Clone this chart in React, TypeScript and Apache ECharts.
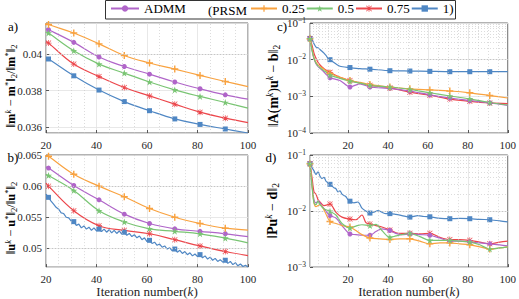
import React, { useEffect, useRef } from 'react';
import * as echarts from 'echarts';

const FONT = 'Liberation Serif, DejaVu Serif, serif';
const NAMES = ['ADMM', '0.25', '0.5', '0.75', '1'];
const COLORS: Record<string, string> = { ADMM: '#B065C9', '0.25': '#F9A23F', '0.5': '#79C573', '0.75': '#EC474C', '1': '#4F87C4' };
const MARK_ITERS = [1, 11, 21, 31, 41, 51, 61, 71, 81, 91];

// Panel a: relative model error
const A_X = [20, 21, 31, 41, 51, 61, 71, 81, 91, 100];
const A_ADMM = [0.04138, 0.04133, 0.04064, 0.03984, 0.03932, 0.0389, 0.03847, 0.0381, 0.03777, 0.03753];
const A_025 = [0.0417, 0.04162, 0.04115, 0.04056, 0.03992, 0.03951, 0.03918, 0.03883, 0.0385, 0.03822];
const A_05 = [0.04122, 0.04115, 0.04018, 0.03945, 0.03896, 0.03847, 0.03804, 0.03768, 0.03735, 0.03704];
const A_075 = [0.04068, 0.0406, 0.03945, 0.03877, 0.03817, 0.03771, 0.03726, 0.03682, 0.03649, 0.03625];
const A_1 = [0.03978, 0.03973, 0.03881, 0.03803, 0.0374, 0.0369, 0.03645, 0.03615, 0.0359, 0.03568];

// Panel b: relative wavefield error
const B_X = [20, 21, 31, 41, 51, 61, 71, 81, 91, 100];
const B_ADMM = [0.0631, 0.0629, 0.0601, 0.0578, 0.0555, 0.054, 0.05315, 0.05275, 0.05235, 0.0519];
const B_025 = [0.065, 0.0648, 0.0619, 0.06, 0.0583, 0.0564, 0.055, 0.054, 0.05325, 0.05295];
const B_05 = [0.0619, 0.0617, 0.0593, 0.05605, 0.05425, 0.05315, 0.05275, 0.05235, 0.05165, 0.0509];
const B_075 = [0.0605, 0.06, 0.05605, 0.05365, 0.0529, 0.05235, 0.0514, 0.0504, 0.0495, 0.04885];
const B_1_X = Array.from({ length: 81 }, (_, i) => 20 + i);
const B_1 = [
  0.0587, 0.0582, 0.0576, 0.0571, 0.0566, 0.0563, 0.0557, 0.0556, 0.055, 0.0549,
  0.0544, 0.0543, 0.0537, 0.0539, 0.0533, 0.0536, 0.0531, 0.0534, 0.0529, 0.0533,
  0.0528, 0.0531, 0.0527, 0.0531, 0.0526, 0.053, 0.0525, 0.0529, 0.0524, 0.0528,
  0.0523, 0.0526, 0.0521, 0.0524, 0.0519, 0.0522, 0.0517, 0.052, 0.0514, 0.0517,
  0.0511, 0.0513, 0.0508, 0.051, 0.0505, 0.0507, 0.0502, 0.0504, 0.0499, 0.0501,
  0.0496, 0.0499, 0.0494, 0.0497, 0.0492, 0.0495, 0.049, 0.0493, 0.0488, 0.0491,
  0.0487, 0.049, 0.0485, 0.0488, 0.0483, 0.0486, 0.0481, 0.0484, 0.0479, 0.0482,
  0.0478, 0.0481, 0.0476, 0.0479, 0.0474, 0.0477, 0.0472, 0.0475, 0.0471, 0.0473,
  0.047,
];

// Panel c: data misfit (log)
const C_X = [1, 2, 3, 4, 5, 6, 7, 8, 9, 10, 11, 16, 21, 26, 31, 41, 51, 61, 71, 81, 91, 100];
const C_ADMM = [0.037, 0.019, 0.0105, 0.0078, 0.0066, 0.0058, 0.0052, 0.0046, 0.004, 0.0035, 0.0032, 0.0027, 0.0018, 0.0022, 0.0018, 0.00165, 0.0014, 0.0011, 0.0009, 0.00077, 0.00066, 0.00057];
const C_025 = [0.037, 0.02, 0.011, 0.0085, 0.0072, 0.0065, 0.006, 0.0055, 0.005, 0.0046, 0.0042, 0.0033, 0.0027, 0.0024, 0.0021, 0.0018, 0.0016, 0.0015, 0.0014, 0.00125, 0.00105, 0.0009];
const C_05 = [0.037, 0.018, 0.011, 0.008, 0.0068, 0.006, 0.0055, 0.005, 0.0046, 0.0041, 0.0038, 0.0031, 0.0026, 0.0023, 0.002, 0.0018, 0.00155, 0.00125, 0.00102, 0.00085, 0.00068, 0.00058];
const C_075 = [0.037, 0.025, 0.015, 0.011, 0.0085, 0.0072, 0.0063, 0.0057, 0.0052, 0.0048, 0.0045, 0.0033, 0.0027, 0.0023, 0.002, 0.0017, 0.0013, 0.00107, 0.00084, 0.00073, 0.00066, 0.00063];
const C_1 = [0.038, 0.036, 0.027, 0.022, 0.021, 0.019, 0.017, 0.015, 0.013, 0.011, 0.01, 0.0066, 0.0061, 0.0057, 0.0055, 0.005, 0.0049, 0.0048, 0.0047, 0.0047, 0.0047, 0.0047];

// Panel d: observation misfit (log)
const D_ADMM_X = [1, 2, 3, 4, 5, 6, 8, 11, 14, 17, 21, 24, 27, 31, 34, 37, 41, 44, 47, 51, 56, 61, 66, 71, 76, 81, 86, 91, 96, 100];
const D_ADMM = [0.07, 0.03, 0.016, 0.014, 0.015, 0.014, 0.011, 0.0083, 0.0075, 0.0055, 0.0039, 0.0038, 0.0037, 0.0037, 0.0043, 0.0048, 0.0045, 0.004, 0.0038, 0.0039, 0.0038, 0.0037, 0.0033, 0.0029, 0.0029, 0.0028, 0.0027, 0.0026, 0.0025, 0.0024];
const D_025_X = [1, 2, 3, 4, 5, 6, 8, 11, 14, 17, 21, 24, 27, 31, 36, 41, 46, 51, 56, 61, 66, 71, 76, 81, 86, 91, 96, 100];
const D_025 = [0.07, 0.03, 0.014, 0.012, 0.0125, 0.013, 0.0105, 0.0065, 0.006, 0.0055, 0.0052, 0.0045, 0.0038, 0.0033, 0.0032, 0.0031, 0.0032, 0.0032, 0.0029, 0.0026, 0.0027, 0.0027, 0.0026, 0.0025, 0.0023, 0.0021, 0.0022, 0.0023];
const D_05_X = [1, 2, 3, 4, 5, 6, 8, 11, 14, 17, 21, 24, 27, 31, 34, 37, 41, 44, 47, 51, 56, 61, 66, 71, 76, 81, 86, 91, 96, 100];
const D_05 = [0.07, 0.028, 0.014, 0.013, 0.015, 0.013, 0.011, 0.0099, 0.0085, 0.006, 0.005, 0.0054, 0.0057, 0.0055, 0.0058, 0.0045, 0.0034, 0.0036, 0.0038, 0.004, 0.0035, 0.003, 0.003, 0.003, 0.0029, 0.0028, 0.0025, 0.0021, 0.0022, 0.0023];
const D_075_X = [1, 2, 3, 4, 5, 6, 8, 11, 14, 17, 21, 24, 27, 29, 31, 34, 37, 41, 44, 47, 51, 56, 61, 66, 71, 76, 81, 86, 91, 96, 100];
const D_075 = [0.07, 0.04, 0.022, 0.02, 0.016, 0.0145, 0.0125, 0.0133, 0.0095, 0.0078, 0.0072, 0.007, 0.0085, 0.0062, 0.0059, 0.0055, 0.0052, 0.0046, 0.0041, 0.004, 0.004, 0.0039, 0.004, 0.0034, 0.0031, 0.0031, 0.003, 0.0028, 0.0026, 0.0028, 0.0029];
const D_1_X = [1, 2, 3, 4, 5, 6, 7, 8, 9, 10, 11, 12, 13, 14, 15, 16, 17, 18, 19, 20, 21, 23, 25, 27, 29, 31, 33, 35, 37, 39, 41, 44, 47, 51, 55, 58, 61, 65, 71, 76, 81, 86, 91, 96, 100];
const D_1 = [0.07, 0.06, 0.052, 0.045, 0.05, 0.042, 0.038, 0.04, 0.034, 0.032, 0.03, 0.028, 0.026, 0.025, 0.022, 0.023, 0.02, 0.019, 0.018, 0.016, 0.015, 0.014, 0.0145, 0.0113, 0.01, 0.0092, 0.0095, 0.0102, 0.0095, 0.009, 0.009, 0.0087, 0.0083, 0.0078, 0.0083, 0.008, 0.0079, 0.0075, 0.0073, 0.0074, 0.0073, 0.0071, 0.007, 0.0067, 0.0064];

// Axis ranges and grid values
const A_Y_RANGE = [0.03568, 0.0417];
const B_Y_RANGE = [0.047, 0.065];
const C_Y_RANGE = [1e-4, 1e-1];
const D_Y_RANGE = [1e-3, 1e-1];
const A_MINOR_Y = [0.0365, 0.037, 0.0375, 0.0385, 0.039, 0.0395, 0.0405, 0.041, 0.0415];
const B_MINOR_Y = [0.048, 0.049, 0.051, 0.052, 0.053, 0.054, 0.056, 0.057, 0.058, 0.059, 0.061, 0.062, 0.063, 0.064];
const C_MINOR_Y = [2e-4, 3e-4, 4e-4, 5e-4, 6e-4, 7e-4, 8e-4, 9e-4, 2e-3, 3e-3, 4e-3, 5e-3, 6e-3, 7e-3, 8e-3, 9e-3, 2e-2, 3e-2, 4e-2, 5e-2, 6e-2, 7e-2, 8e-2, 9e-2];
const D_MINOR_Y = [2e-3, 3e-3, 4e-3, 5e-3, 6e-3, 7e-3, 8e-3, 9e-3, 2e-2, 3e-2, 4e-2, 5e-2, 6e-2, 7e-2, 8e-2, 9e-2];
const AB_MINOR_X = [25, 30, 35, 45, 50, 55, 65, 70, 75, 85, 90, 95];
const CD_MINOR_X = [5, 10, 15, 25, 30, 35, 45, 50, 55, 65, 70, 75, 85, 90, 95];

const PLUS = 'path://M4,0h2v4h4v2h-4v4h-2v-4h-4v-2h4z';
const STAR = 'path://M5,0L6.2,3.8L10,3.8L6.9,6.1L8.1,10L5,7.6L1.9,10L3.1,6.1L0,3.8L3.8,3.8Z';
const ASTER = 'path://M4.4,0h1.2v10h-1.2z M0,4.4h10v1.2h-10z M1.2,0.4L9.6,8.8L8.8,9.6L0.4,1.2z M8.8,0.4L9.6,1.2L1.2,9.6L0.4,8.8z';
const SYMBOLS: Record<string, string> = { ADMM: 'circle', '0.25': PLUS, '0.5': STAR, '0.75': ASTER, '1': 'rect' };
const SIZES: Record<string, number> = { ADMM: 5, '0.25': 7, '0.5': 7, '0.75': 6, '1': 5 };

const AXIS_COLOR = '#333';
const GRID_COLOR = '#e2e2e2';

function mkSeries(name: string, idx: number, xs: number[], ys: number[], smooth: number | boolean) {
  const color = COLORS[name];
  return {
    type: 'line',
    name,
    xAxisIndex: idx,
    yAxisIndex: idx,
    data: xs.map((x, i) => (MARK_ITERS.includes(x) ? [x, ys[i]] : { value: [x, ys[i]], symbol: 'none' })),
    symbol: SYMBOLS[name],
    symbolSize: SIZES[name],
    showSymbol: true,
    smooth,
    lineStyle: { width: 1.2, color },
    itemStyle: { color },
    z: 3,
  };
}

function minorSeries(idx: number, ys: number[], xs: number[]) {
  return {
    type: 'line',
    xAxisIndex: idx,
    yAxisIndex: idx,
    data: [],
    silent: true,
    z: 1,
    markLine: {
      silent: true,
      symbol: ['none', 'none'],
      label: { show: false },
      lineStyle: { type: [1, 2], color: '#c4c4c4', width: 0.6 },
      emphasis: { disabled: true },
      data: [...ys.map((v) => ({ yAxis: v })), ...xs.map((v) => ({ xAxis: v }))],
    },
  };
}

const labelStyle = { fontFamily: FONT, fontSize: 11, color: '#262626' };

function xAxis(idx: number, min: number, showName: boolean) {
  return {
    type: 'value',
    gridIndex: idx,
    min,
    max: 100,
    splitNumber: 4,
    axisLine: { show: false },
    axisTick: { inside: true, length: 3, lineStyle: { color: AXIS_COLOR, width: 0.8 } },
    axisLabel: { ...labelStyle, margin: 6, showMinLabel: min === 20, showMaxLabel: true },
    splitLine: { show: true, lineStyle: { color: GRID_COLOR, width: 0.8 } },
    name: showName ? '{n|Iteration number(}{i|k}{n|)}' : '',
    nameLocation: 'middle',
    nameGap: 17,
    nameTextStyle: {
      rich: {
        n: { fontFamily: FONT, fontSize: 13, color: '#262626' },
        i: { fontFamily: FONT, fontSize: 13, color: '#262626', fontStyle: 'italic' },
      },
    },
  };
}

function linYAxis(idx: number, range: number[], splitNumber: number, showMax: boolean) {
  return {
    type: 'value',
    gridIndex: idx,
    min: range[0],
    max: range[1],
    splitNumber,
    axisLine: { show: false },
    axisTick: { inside: true, length: 3, lineStyle: { color: AXIS_COLOR, width: 0.8 } },
    axisLabel: { ...labelStyle, margin: 4, showMinLabel: false, showMaxLabel: showMax },
    splitLine: { show: true, lineStyle: { color: GRID_COLOR, width: 0.8 } },
  };
}

function logYAxis(idx: number, range: number[]) {
  return {
    type: 'log',
    logBase: 10,
    gridIndex: idx,
    min: range[0],
    max: range[1],
    axisLine: { show: false },
    axisTick: { inside: true, length: 3, lineStyle: { color: AXIS_COLOR, width: 0.8 } },
    axisLabel: {
      margin: 4,
      formatter: (v: number) => {
        const e = Math.round(Math.log10(v));
        return `{b|10}{s|${e < 0 ? '\u2212' + Math.abs(e) : e}}`;
      },
      rich: {
        b: { fontFamily: FONT, fontSize: 11, color: '#262626', lineHeight: 14 },
        s: { fontFamily: FONT, fontSize: 7.5, color: '#262626', verticalAlign: 'top' },
      },
    },
    splitLine: { show: true, lineStyle: { color: GRID_COLOR, width: 0.8 } },
  };
}

function richY(size: number) {
  const s = size * 0.68;
  return {
    b: { fontFamily: FONT, fontSize: size, fontWeight: 'bold', color: '#000', lineHeight: size + 3 },
    n: { fontFamily: FONT, fontSize: size, color: '#000', lineHeight: size + 3 },
    sup: { fontFamily: FONT, fontSize: s, color: '#000', verticalAlign: 'top', fontStyle: 'italic' },
    st: { fontFamily: FONT, fontSize: s, color: '#000', verticalAlign: 'top' },
    sub: { fontFamily: FONT, fontSize: s, color: '#000', verticalAlign: 'bottom' },
  };
}

function yTitle(x: number, y: number, size: number, text: string) {
  return {
    type: 'text',
    x,
    y,
    rotation: Math.PI / 2,
    style: { text, align: 'center', verticalAlign: 'middle', rich: richY(size) },
  };
}

function panelTag(x: number, y: number, text: string) {
  return {
    type: 'text',
    x,
    y,
    style: { text, fontFamily: FONT, fontSize: 13, fill: '#000', align: 'center', verticalAlign: 'middle' },
  };
}

export default function App() {
  const ref = useRef<HTMLDivElement>(null);
  useEffect(() => {
    if (!ref.current) return;
    const chart = echarts.init(ref.current, undefined, { renderer: 'svg' });
    const grids = [
      { left: 46, top: 23, width: 202, height: 110 },
      { left: 46, top: 155, width: 202, height: 113 },
      { left: 310, top: 23, width: 201, height: 110 },
      { left: 310, top: 155, width: 201, height: 113 },
    ].map((g) => ({ ...g, show: true, borderColor: '#404040', borderWidth: 0.8, backgroundColor: '#fff' }));

    const series: any[] = [
      minorSeries(0, A_MINOR_Y, AB_MINOR_X),
      minorSeries(1, B_MINOR_Y, AB_MINOR_X),
      minorSeries(2, C_MINOR_Y, CD_MINOR_X),
      minorSeries(3, D_MINOR_Y, CD_MINOR_X),
      mkSeries('ADMM', 0, A_X, A_ADMM, 0.4),
      mkSeries('0.25', 0, A_X, A_025, 0.4),
      mkSeries('0.5', 0, A_X, A_05, 0.4),
      mkSeries('0.75', 0, A_X, A_075, 0.4),
      mkSeries('1', 0, A_X, A_1, 0.4),
      mkSeries('ADMM', 1, B_X, B_ADMM, 0.4),
      mkSeries('0.25', 1, B_X, B_025, 0.4),
      mkSeries('0.5', 1, B_X, B_05, 0.4),
      mkSeries('0.75', 1, B_X, B_075, 0.4),
      mkSeries('1', 1, B_1_X, B_1, false),
      mkSeries('1', 2, C_X, C_1, 0.25),
      mkSeries('0.75', 2, C_X, C_075, 0.25),
      mkSeries('ADMM', 2, C_X, C_ADMM, 0.25),
      mkSeries('0.25', 2, C_X, C_025, 0.25),
      mkSeries('0.5', 2, C_X, C_05, 0.25),
      mkSeries('1', 3, D_1_X, D_1, 0.3),
      mkSeries('0.75', 3, D_075_X, D_075, 0.3),
      mkSeries('ADMM', 3, D_ADMM_X, D_ADMM, 0.3),
      mkSeries('0.25', 3, D_025_X, D_025, 0.3),
      mkSeries('0.5', 3, D_05_X, D_05, 0.3),
    ];

    const legendText = { fontFamily: FONT, fontSize: 13, color: '#000' };

    chart.setOption({
      animation: false,
      grid: grids,
      xAxis: [xAxis(0, 20, false), xAxis(1, 20, true), xAxis(2, 1, false), xAxis(3, 1, true)],
      yAxis: [
        linYAxis(0, A_Y_RANGE, 3, false),
        linYAxis(1, B_Y_RANGE, 4, true),
        logYAxis(2, C_Y_RANGE),
        logYAxis(3, D_Y_RANGE),
      ],
      legend: [
        {
          data: [NAMES[0]],
          left: 110,
          top: 2,
          padding: 0,
          itemWidth: 28,
          itemHeight: 8,
          textStyle: legendText,
          selectedMode: false,
        },
        {
          data: NAMES.slice(1),
          left: 250,
          top: 2,
          padding: 0,
          itemGap: 1,
          itemWidth: 26,
          itemHeight: 8,
          textStyle: legendText,
          selectedMode: false,
          formatter: (name: string) => (name === '1' ? '1)' : name),
        },
      ],
      graphic: [
        {
          type: 'rect',
          shape: { x: 105.5, y: 0.5, width: 350, height: 18.5 },
          style: { fill: 'none', stroke: '#333', lineWidth: 1 },
          z: 10,
        },
        {
          type: 'text',
          x: 208,
          y: 10,
          style: { text: '(PRSM', fontFamily: FONT, fontSize: 13, fill: '#000', verticalAlign: 'middle' },
        },
        yTitle(11, 86, 12.5, '{n|\u2016}{b|m}{sup|k}{n| \u2212 }{b|m}{st|*}{n|\u2016}{sub|2}{n|/\u2016}{b|m}{st|*}{n|\u2016}{sub|2}'),
        yTitle(11, 218, 12.5, '{n|\u2016}{b|u}{sup|k}{n| \u2212 }{b|u}{st|*}{n|\u2016}{sub|2}{n|/\u2016}{b|u}{st|*}{n|\u2016}{sub|2}'),
        yTitle(273, 86, 14, '{n|\u2016}{b|A}{n|(}{b|m}{sup|k}{n|)}{b|u}{sup|k}{n| \u2212 }{b|b}{n|\u2016}{sub|2}'),
        yTitle(272, 211, 14, '{n|\u2016}{b|Pu}{sup|k}{n| \u2212 }{b|d}{n|\u2016}{sub|2}'),
        panelTag(13, 26, 'a)'),
        panelTag(13, 157, 'b)'),
        panelTag(282, 26, 'c)'),
        panelTag(271, 157, 'd)'),
      ],
      series,
    });
    return () => chart.dispose();
  }, []);
  return <div ref={ref} style={{ position: 'fixed', left: 0, top: 0, width: 519, height: 299, background: '#fff' }} />;
}
